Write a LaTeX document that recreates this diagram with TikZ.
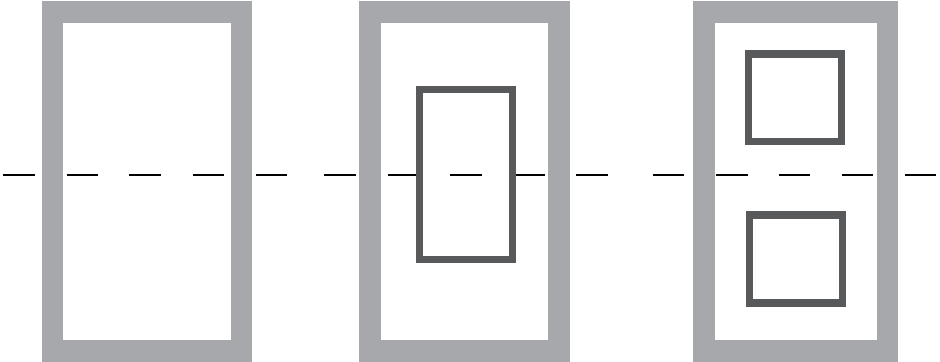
\documentclass[tikz,border=0pt]{standalone}
\begin{document}
\begin{tikzpicture}[x=0.75pt,y=0.75pt,yscale=-1,xscale=1,
    frame/.style={draw={rgb, 255:red, 167; green, 168; blue, 172 },line width=16.1pt},
    slot/.style={draw={rgb, 255:red, 88; green, 89; blue, 91 },line width=5.6pt},
    dashpiece/.style={draw=black,line width=1.3pt}]
            \useasboundingbox (0,0) rectangle (940,361);
            % center line
            \foreach \xa/\xb in {3.3/35,66.7/98.3,129.3/161.3,192.7/224.3,255.7/287.3,324.3/356,387.7/418.3,450.3/481.7,513.3/544.7,576/608,652.7/684.3,716/747.7,779/810,842.3/873.3,905.3/936}
              \draw [dashpiece] (\xa,174.7) -- (\xb,174.7) ;
            % frames
            \draw [frame] (52.3,12) rectangle (241.6,351) ;
            \draw [frame] (369.8,12) rectangle (559.2,351) ;
            \draw [frame] (704,12) rectangle (887.7,351) ;
            % inserts
            \draw [slot] (419.7,89.3) rectangle (512.7,259.7) ;
            \draw [slot] (748.3,53.8) rectangle (841.3,141.7) ;
            \draw [slot] (749.3,214.8) rectangle (842.3,303) ;
        \end{tikzpicture}
\end{document}
